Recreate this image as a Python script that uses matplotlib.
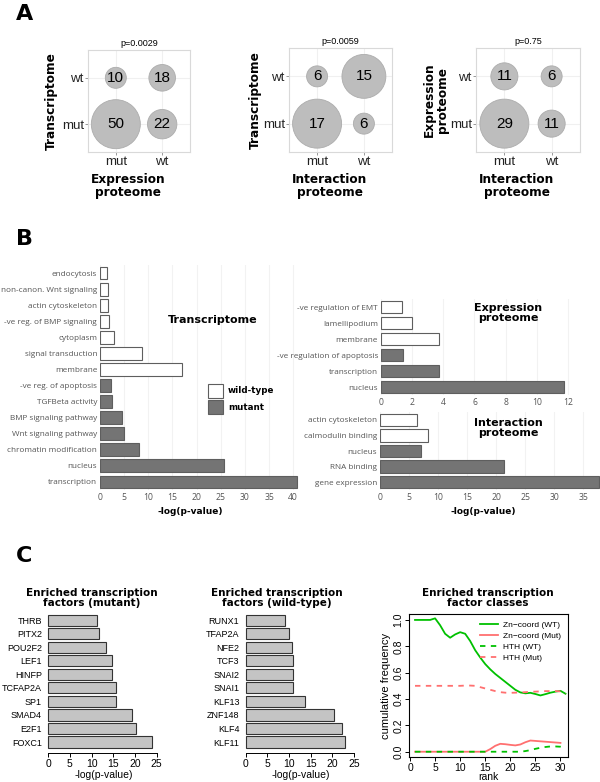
import numpy as np
import matplotlib
matplotlib.use("Agg")
import matplotlib.pyplot as plt
from matplotlib.patches import Rectangle

W, H = 600, 782

# ---- panel A data: counts at (x, y) = (mut,mut), (wt,mut), (mut,wt), (wt,wt)
venn_counts = [[50, 22, 10, 18], [17, 6, 6, 15], [29, 11, 11, 6]]
venn_pvals = ["p=0.0029", "p=0.0059", "p=0.75"]
venn_xlabels = ["Expression\nproteome", "Interaction\nproteome", "Interaction\nproteome"]
venn_ylabels = ["Transcriptome", "Transcriptome", "Expression\nproteome"]
venn_ticks = ["mut", "wt"]

# ---- panel B data (top to bottom)
tr_terms = ["endocytosis", "non-canon. Wnt signaling", "actin cytoskeleton",
            "-ve reg. of BMP signaling", "cytoplasm", "signal transduction", "membrane",
            "-ve reg. of apoptosis", "TGFBeta activity", "BMP signaling pathway",
            "Wnt signaling pathway", "chromatin modification", "nucleus", "transcription"]
tr_vals = [1.4, 1.6, 1.7, 1.9, 3.0, 8.6, 17.0, 2.3, 2.4, 4.6, 5.0, 8.1, 25.7, 40.8]
tr_mutant = [0, 0, 0, 0, 0, 0, 0, 1, 1, 1, 1, 1, 1, 1]

ex_terms = ["-ve regulation of EMT", "lamellipodium", "membrane",
            "-ve regulation of apoptosis", "transcription", "nucleus"]
ex_vals = [1.35, 2.0, 3.75, 1.4, 3.7, 11.7]
ex_mutant = [0, 0, 0, 1, 1, 1]

in_terms = ["actin cytoskeleton", "calmodulin binding", "nucleus", "RNA binding",
            "gene expression"]
in_vals = [6.3, 8.3, 7.0, 21.4, 37.8]
in_mutant = [0, 0, 1, 1, 1]

# ---- panel C data (top to bottom)
tf_mut_names = ["THRB", "PITX2", "POU2F2", "LEF1", "HINFP", "TCFAP2A", "SP1",
                "SMAD4", "E2F1", "FOXC1"]
tf_mut_vals = [11.2, 11.7, 13.3, 14.7, 14.7, 15.7, 15.7, 19.4, 20.3, 23.9]
tf_wt_names = ["RUNX1", "TFAP2A", "NFE2", "TCF3", "SNAI2", "SNAI1", "KLF13",
               "ZNF148", "KLF4", "KLF11"]
tf_wt_vals = [9.1, 10.1, 10.8, 11.0, 11.0, 11.0, 13.8, 20.5, 22.2, 22.9]

rank = [1, 2, 3, 4, 5, 6, 7, 8, 9, 10, 11, 12, 13, 14, 15, 16, 17, 18, 19, 20,
        21, 22, 23, 24, 25, 26, 27, 28, 29, 30, 31]
zn_wt = [1.0, 1.0, 1.0, 1.0, 1.012, 0.96, 0.895, 0.865, 0.89, 0.907, 0.895, 0.84,
         0.77, 0.715, 0.665, 0.625, 0.59, 0.56, 0.53, 0.5, 0.47, 0.45, 0.443, 0.447,
         0.438, 0.427, 0.437, 0.448, 0.456, 0.462, 0.44]
zn_mut = [0, 0, 0, 0, 0, 0, 0, 0, 0, 0, 0, 0, 0, 0, 0, 0.02, 0.045, 0.06, 0.057,
          0.052, 0.048, 0.055, 0.072, 0.085, 0.082, 0.079, 0.076, 0.073, 0.07, 0.067]
hth_wt = [0, 0, 0, 0, 0, 0, 0, 0, 0, 0, 0, 0, 0, 0, 0, 0, 0, 0, 0, 0, 0, 0, 0.005,
          0.012, 0.022, 0.03, 0.036, 0.04, 0.04, 0.038, 0.03]
hth_mut = [0.5, 0.5, 0.5, 0.5, 0.5, 0.5, 0.5, 0.5, 0.5, 0.5, 0.502, 0.502, 0.5, 0.49,
           0.48, 0.47, 0.46, 0.452, 0.448, 0.447, 0.448, 0.45, 0.452, 0.455, 0.456,
           0.458, 0.46, 0.46, 0.46, 0.458, 0.44]

GREEN = "#00c000"
RED = "#ff7070"
BOLD = "DejaVu Sans"
ARIAL = "Liberation Sans"
OPEN = "Open Sans"

fig = plt.figure(figsize=(W / 100, H / 100), dpi=100)


def px_axes(x0, y0, x1, y1):
    return fig.add_axes([x0 / W, 1 - y1 / H, (x1 - x0) / W, (y1 - y0) / H])


def ftext(x, y, s, **kw):
    fig.text(x / W, 1 - y / H, s, **kw)


# ================= A =================
ftext(16, 14, "A", fontsize=16, fontweight="bold", family=BOLD, va="center")
boxes = [(88, 50, 190, 152), (289, 48, 392, 152), (476, 48, 580, 152)]
ylab_x = [51, 255, 436]
xs = [1, 2, 1, 2]
ys = [1, 1, 2, 2]
for i, (x0, y0, x1, y1) in enumerate(boxes):
    ax = px_axes(x0, y0, x1, y1)
    c = np.array(venn_counts[i], dtype=float)
    r_px = 10.5 + 14 * (c - c.min()) / (c.max() - c.min())
    ax.scatter(xs, ys, s=(2 * r_px * 0.72) ** 2, color="#bdbdbd",
               edgecolor="#acacac", linewidth=0.6, zorder=3)
    for xx, yy, n in zip(xs, ys, venn_counts[i]):
        ax.text(xx, yy, str(n), ha="center", va="center", fontsize=11,
                family=ARIAL, zorder=4)
    ax.set_xlim(0.4, 2.6)
    ax.set_ylim(0.4, 2.6)
    ax.set_xticks([1, 2])
    ax.set_yticks([1, 2])
    ax.set_xticklabels(venn_ticks, fontsize=9.5, family=ARIAL, color="#222222")
    ax.set_yticklabels(venn_ticks, fontsize=9.5, family=ARIAL, color="#222222")
    ax.tick_params(length=2, width=0.6, color="#888888", pad=1)
    ax.grid(color="#f0f0f0", linewidth=0.8)
    ax.set_axisbelow(True)
    for sp in ax.spines.values():
        sp.set_color("#d9d9d9")
        sp.set_linewidth(0.8)
    cx = (x0 + x1) / 2
    ftext(cx, y0 - 7, venn_pvals[i], ha="center", va="center", fontsize=6.5,
          family=ARIAL)
    ftext(cx - 11, 186, venn_xlabels[i], ha="center", va="center", fontsize=8.7,
          fontweight="bold", family=BOLD, linespacing=1.05)
    ftext(ylab_x[i], (y0 + y1) / 2, venn_ylabels[i], ha="center", va="center",
          fontsize=8.7, fontweight="bold", family=BOLD, rotation=90, linespacing=1.05)

# ================= B =================
ftext(16, 239, "B", fontsize=16, fontweight="bold", family=BOLD, va="center")


def go_bars(ax, terms, vals, mutant, xmax, ticks):
    n = len(terms)
    pos = np.arange(n)[::-1]
    cols = ["#747474" if m else "white" for m in mutant]
    ax.barh(pos, vals, height=0.8, color=cols, edgecolor="#5e5e5e", linewidth=0.8,
            zorder=3)
    ax.set_ylim(-0.5, n - 0.5)
    ax.set_xlim(0, xmax)
    ax.set_yticks(pos)
    ax.set_yticklabels(terms, fontsize=5.9, family=OPEN, color="#555555")
    ax.set_xticks(ticks)
    ax.set_xticklabels([str(t) for t in ticks], fontsize=6.2, family=OPEN,
                       color="#555555")
    ax.tick_params(length=0, pad=2)
    ax.grid(axis="x", color="#f2f2f2", linewidth=0.8)
    ax.set_axisbelow(True)
    for sp in ax.spines.values():
        sp.set_visible(False)


ax = px_axes(100, 265, 300, 490)
go_bars(ax, tr_terms, tr_vals, tr_mutant, 41.4, [0, 5, 10, 15, 20, 25, 30, 35, 40])
ftext(213, 320, "Transcriptome", ha="center", va="center", fontsize=8,
      fontweight="bold", family=BOLD)
for yy, fc, lab in [(390.5, "white", "wild-type"), (407, "#747474", "mutant")]:
    fig.patches.append(Rectangle((208 / W, 1 - (yy + 7) / H), 15 / W, 14 / H,
                                 transform=fig.transFigure, facecolor=fc,
                                 edgecolor="#5e5e5e", linewidth=0.8))
    ftext(228, yy, lab, ha="left", va="center", fontsize=6.3, fontweight="bold",
          family=BOLD)
ftext(190, 512, "-log(p-value)", ha="center", va="center", fontsize=6.5,
      fontweight="bold", family=BOLD)

ax = px_axes(380.7, 299, 598, 395)
go_bars(ax, ex_terms, ex_vals, ex_mutant, 13.9, [0, 2, 4, 6, 8, 10, 12])
ftext(508, 313, "Expression\nproteome", ha="center", va="center", fontsize=8,
      fontweight="bold", family=BOLD, linespacing=1.05)

ax = px_axes(380, 412, 600, 490)
go_bars(ax, in_terms, in_vals, in_mutant, 37.9, [0, 5, 10, 15, 20, 25, 30, 35])
ftext(508, 428, "Interaction\nproteome", ha="center", va="center", fontsize=8,
      fontweight="bold", family=BOLD, linespacing=1.05)
ftext(483, 512, "-log(p-value)", ha="center", va="center", fontsize=6.5,
      fontweight="bold", family=BOLD)

# ================= C =================
ftext(16, 556, "C", fontsize=16, fontweight="bold", family=BOLD, va="center")


def tf_bars(ax, names, vals, title_x, title):
    n = len(names)
    pos = np.arange(n)[::-1]
    ax.barh(pos, vals, height=0.83, color="#c4c4c4", edgecolor="#333333",
            linewidth=0.8)
    ax.set_ylim(-0.81, 9.6)
    ax.set_xlim(-0.5, 26)
    ax.set_yticks(pos)
    ax.set_yticklabels(names, fontsize=6.5, family=ARIAL)
    ax.tick_params(axis="y", length=0, pad=3)
    ticks = [0, 5, 10, 15, 20, 25]
    ax.set_xticks(ticks)
    ax.set_xticklabels([str(t) for t in ticks], fontsize=7.5, family=ARIAL)
    ax.tick_params(axis="x", length=3, width=0.7, pad=1.5)
    for k in ["top", "right", "left"]:
        ax.spines[k].set_visible(False)
    ax.spines["bottom"].set_bounds(0, 25)
    ax.spines["bottom"].set_linewidth(0.7)
    cx = (ax.get_position().x0 + ax.get_position().x1) / 2 * W
    ftext(cx, 775, "-log(p-value)", ha="center", va="center", fontsize=7.5,
          family=ARIAL)
    ftext(title_x, 598, title, ha="center", va="center", fontsize=7.5,
          fontweight="bold", family=BOLD, linespacing=1.05)


ax = px_axes(46.1, 612, 160.9, 753)
tf_bars(ax, tf_mut_names, tf_mut_vals, 92, "Enriched transcription\nfactors (mutant)")
ax = px_axes(243.5, 612, 358.3, 753)
tf_bars(ax, tf_wt_names, tf_wt_vals, 277, "Enriched transcription\nfactors (wild-type)")

ax = px_axes(409, 614, 568, 757)
ax.plot(rank, zn_wt, color=GREEN, lw=1.3, label="Zn\u2212coord (WT)")
ax.plot(rank[:len(zn_mut)], zn_mut, color=RED, lw=1.3, label="Zn\u2212coord (Mut)")
ax.plot(rank, hth_wt, color=GREEN, lw=1.3, ls=(0, (3, 3)), label="HTH (WT)")
ax.plot(rank, hth_mut, color=RED, lw=1.3, ls=(0, (3, 3)), label="HTH (Mut)")
ax.set_xlim(-0.2, 31.5)
ax.set_ylim(-0.04, 1.045)
ax.set_xticks([0, 5, 10, 15, 20, 25, 30])
ax.set_xticklabels(["0", "5", "10", "15", "20", "25", "30"], fontsize=7.5, family=ARIAL)
ax.set_yticks([0.0, 0.2, 0.4, 0.6, 0.8, 1.0])
ax.set_yticklabels(["0.0", "0.2", "0.4", "0.6", "0.8", "1.0"], fontsize=7.5,
                   family=ARIAL, rotation=90, va="center")
ax.tick_params(length=3, width=0.7, pad=1.0)
for sp in ax.spines.values():
    sp.set_linewidth(0.8)
ftext(488, 777.5, "rank", ha="center", va="center", fontsize=7.5, family=ARIAL)
ax.set_ylabel("cumulative frequency", fontsize=8, family=ARIAL, labelpad=2)
ax.legend(loc="upper right", frameon=False, prop={"family": ARIAL, "size": 6},
          handlelength=2.2, labelspacing=0.35, borderaxespad=0.5, handletextpad=0.5)
ftext(488, 598, "Enriched transcription\nfactor classes", ha="center", va="center",
      fontsize=7.5, fontweight="bold", family=BOLD, linespacing=1.05)

fig.savefig("out.png", dpi=100)
